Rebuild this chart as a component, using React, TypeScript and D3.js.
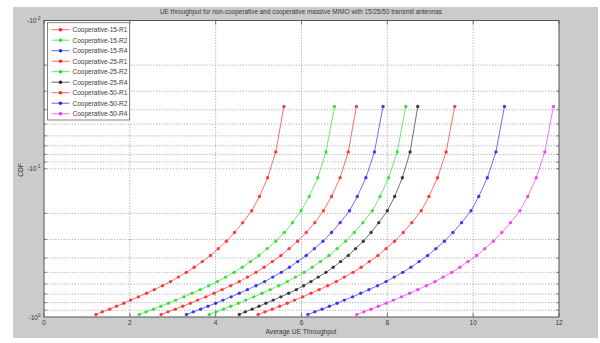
import * as d3 from "d3";

// CDF levels shared by all curves (bottom of the plot first)
const levels = [0.962, 0.923, 0.885, 0.846, 0.808, 0.769, 0.731, 0.692, 0.654, 0.615, 0.577, 0.538, 0.5, 0.462, 0.423, 0.385, 0.346, 0.308, 0.269, 0.231, 0.192, 0.154, 0.115, 0.077, 0.038];

// average UE throughput for each level, one array per configuration
const coop15R1 = [1.21, 1.36, 1.53, 1.69, 1.86, 2.02, 2.2, 2.39, 2.57, 2.76, 2.95, 3.13, 3.32, 3.5, 3.69, 3.88, 4.06, 4.25, 4.44, 4.63, 4.84, 5.02, 5.21, 5.4, 5.59];
const coop15R2 = [2.22, 2.38, 2.55, 2.72, 2.9, 3.07, 3.26, 3.45, 3.64, 3.84, 4.04, 4.23, 4.43, 4.62, 4.81, 5.01, 5.2, 5.4, 5.6, 5.79, 5.99, 6.18, 6.38, 6.57, 6.77];
const coop15R4 = [3.32, 3.48, 3.65, 3.82, 4.0, 4.17, 4.36, 4.55, 4.74, 4.94, 5.14, 5.33, 5.53, 5.72, 5.91, 6.11, 6.3, 6.5, 6.7, 6.9, 7.12, 7.3, 7.5, 7.7, 7.9];
const coop25R1 = [2.73, 2.89, 3.06, 3.23, 3.41, 3.58, 3.77, 3.96, 4.15, 4.35, 4.55, 4.74, 4.94, 5.13, 5.32, 5.52, 5.71, 5.91, 6.11, 6.31, 6.51, 6.7, 6.9, 7.09, 7.28];
const coop25R2 = [3.85, 4.01, 4.18, 4.35, 4.53, 4.7, 4.89, 5.08, 5.27, 5.47, 5.67, 5.86, 6.06, 6.25, 6.44, 6.64, 6.83, 7.03, 7.23, 7.43, 7.65, 7.83, 8.03, 8.23, 8.43];
const coop25R4 = [4.55, 4.69, 4.85, 5.01, 5.17, 5.34, 5.52, 5.7, 5.88, 6.05, 6.22, 6.39, 6.57, 6.74, 6.91, 7.09, 7.26, 7.44, 7.62, 7.8, 8.0, 8.17, 8.35, 8.53, 8.71];
const coop50R1 = [4.99, 5.15, 5.32, 5.49, 5.67, 5.84, 6.03, 6.22, 6.41, 6.61, 6.81, 7.0, 7.2, 7.39, 7.58, 7.78, 7.97, 8.17, 8.37, 8.57, 8.79, 8.97, 9.17, 9.37, 9.57];
const coop50R2 = [6.15, 6.31, 6.48, 6.65, 6.83, 7.0, 7.19, 7.38, 7.57, 7.77, 7.97, 8.16, 8.36, 8.55, 8.74, 8.94, 9.13, 9.33, 9.53, 9.73, 9.95, 10.13, 10.33, 10.53, 10.73];
const coop50R4 = [7.29, 7.45, 7.62, 7.79, 7.97, 8.14, 8.33, 8.52, 8.71, 8.91, 9.11, 9.3, 9.5, 9.69, 9.88, 10.08, 10.27, 10.47, 10.67, 10.87, 11.09, 11.27, 11.47, 11.67, 11.87];

const names = ["Cooperative-15-R1", "Cooperative-15-R2", "Cooperative-15-R4", "Cooperative-25-R1", "Cooperative-25-R2", "Cooperative-25-R4", "Cooperative-50-R1", "Cooperative-50-R2", "Cooperative-50-R4"];
const colors = ["#f22", "#2d2", "#22e", "#f22", "#2d2", "#222", "#f22", "#22e", "#e3e"];
const seriesX = [coop15R1, coop15R2, coop15R4, coop25R1, coop25R2, coop25R4, coop50R1, coop50R2, coop50R4];

const xTicks = [0, 2, 4, 6, 8, 10, 12];
const yMajor = [{ v: 0.01, e: "-2" }, { v: 0.1, e: "-1" }, { v: 1, e: "0" }];
const yGrid = [0.02, 0.03, 0.04, 0.05, 0.06, 0.07, 0.08, 0.09, 0.1, 0.2, 0.3, 0.4, 0.5, 0.6, 0.7, 0.8, 0.9];

const W = 600, H = 343;
const plot = { left: 44, right: 559, top: 20.5, bottom: 317 };
const font = "'Liberation Sans', Arial, sans-serif";
const textCol = "#3a3a3a";

export default function App() {
  const x = d3.scaleLinear().domain([0, 12]).range([plot.left, plot.right]);
  const y = d3.scaleLog().domain([0.01, 1]).range([plot.top, plot.bottom]);
  const line = d3.line<[number, number]>().x((d) => x(d[0])).y((d) => y(d[1]));
  const pw = plot.right - plot.left;
  const ph = plot.bottom - plot.top;

  const legX = 47.5, legY = 22.7, legW = 82, legH = 97.3, rowH = 10.5;

  return (
    <div style={{ position: "fixed", left: 0, top: 0 }}>
      <svg width={W} height={H} style={{ display: "block", background: "#fff" }}>
        <rect x={13} y={7} width={585} height={331} fill="#cbcbcb" />
        <rect x={plot.left} y={plot.top} width={pw} height={ph} fill="#fff" />

        {/* grid */}
        {xTicks.slice(1, -1).map((t) => (
          <line key={`gx${t}`} x1={x(t)} x2={x(t)} y1={plot.top} y2={plot.bottom} stroke="#9a9a9a" strokeWidth={0.8} strokeDasharray="1.2,1.6" />
        ))}
        {yGrid.map((t) => (
          <line key={`gy${t}`} x1={plot.left} x2={plot.right} y1={y(t)} y2={y(t)} stroke="#9a9a9a" strokeWidth={0.8} strokeDasharray="1.2,1.6" />
        ))}

        {/* ticks */}
        {xTicks.map((t) => (
          <g key={`tx${t}`}>
            <line x1={x(t)} x2={x(t)} y1={plot.bottom} y2={plot.bottom - 4} stroke="#555" strokeWidth={0.8} />
            <line x1={x(t)} x2={x(t)} y1={plot.top} y2={plot.top + 4} stroke="#555" strokeWidth={0.8} />
            <text x={x(t)} y={325} textAnchor="middle" fontSize={6.5} fontFamily={font} fill={textCol}>{t}</text>
          </g>
        ))}
        {yGrid.map((t) => (
          <g key={`ty${t}`}>
            <line x1={plot.left} x2={plot.left + 2.5} y1={y(t)} y2={y(t)} stroke="#555" strokeWidth={0.8} />
            <line x1={plot.right} x2={plot.right - 2.5} y1={y(t)} y2={y(t)} stroke="#555" strokeWidth={0.8} />
          </g>
        ))}
        {yMajor.map((t) => (
          <text key={`yl${t.v}`} x={40.5} y={y(t.v) + 2.5} textAnchor="end" fontSize={6.5} fontFamily={font} fill={textCol}>
            -10<tspan dy={-3} fontSize={4.5}>{t.e}</tspan>
          </text>
        ))}

        {/* curves */}
        {seriesX.map((xs, i) => {
          const pts: [number, number][] = xs.map((v, j) => [v, levels[j]]);
          return (
            <g key={names[i]}>
              <path d={line(pts) ?? ""} fill="none" stroke={colors[i]} strokeOpacity={0.65} strokeWidth={1} />
              {pts.map((p, j) => (
                <circle key={j} cx={x(p[0])} cy={y(p[1])} r={1.7} fill={colors[i]} fillOpacity={0.85} />
              ))}
            </g>
          );
        })}

        <rect x={plot.left} y={plot.top} width={pw} height={ph} fill="none" stroke="#555" strokeWidth={1} />

        {/* legend */}
        <rect x={legX} y={legY} width={legW} height={legH} fill="#fff" stroke="#666" strokeWidth={0.8} />
        {names.map((n, i) => {
          const ry = legY + 7 + i * rowH;
          return (
            <g key={`lg${n}`}>
              <line x1={51.5} x2={69.5} y1={ry} y2={ry} stroke={colors[i]} strokeOpacity={0.7} strokeWidth={1} />
              <circle cx={60.5} cy={ry} r={1.7} fill={colors[i]} />
              <text x={72.5} y={ry + 2.3} fontSize={6.5} fontFamily={font} fill={textCol}>{n}</text>
            </g>
          );
        })}

        {/* labels */}
        <text x={301} y={14.3} textAnchor="middle" fontSize={6.4} fontFamily={font} fill={textCol}>
          UE throughput for non-cooperative and cooperative massive MIMO with 15/25/50 transmit antennas
        </text>
        <text x={301} y={334} textAnchor="middle" fontSize={6.6} fontFamily={font} fill={textCol}>Average UE Throughput</text>
        <text transform="translate(23,170) rotate(-90)" textAnchor="middle" fontSize={6.6} fontFamily={font} fill={textCol}>CDF</text>
      </svg>
    </div>
  );
}
